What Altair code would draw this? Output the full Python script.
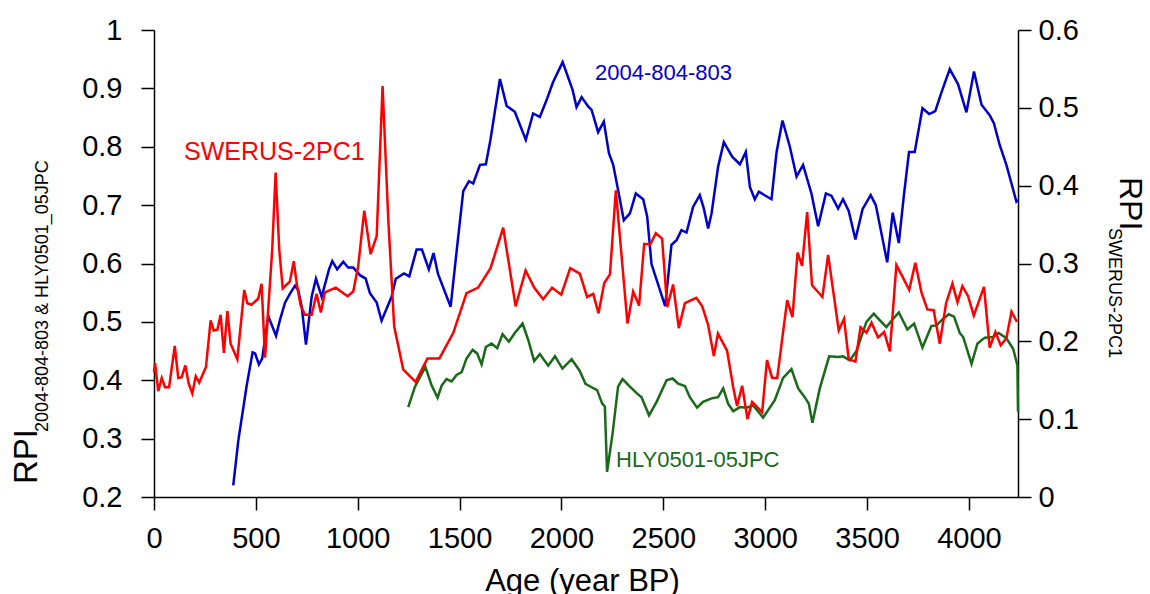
import altair as alt
import pandas as pd

# ---------------- data ----------------
red_age = [0,5,21,38,54,74,102,119,136,154,
           170,188,205,222,255,278,293,311,327,343,
           360,376,409,443,458,479,512,528,545,580,
           597,615,632,667,686,703,720,741,774,798,
           819,839,892,950,978,1002,1032,1063,1093,1122,
           1150,1179,1223,1284,1342,1401,1469,1534,1591,1652,
           1714,1775,1824,1866,1910,1954,1999,2043,2090,2126,
           2156,2182,2210,2238,2267,2324,2352,2381,2406,2437,
           2463,2494,2519,2548,2576,2606,2662,2691,2720,2748,
           2768,2813,2843,2862,2887,2913,2936,2985,3009,3034,
           3059,3108,3134,3159,3181,3206,3230,3281,3309,3361,
           3387,3410,3443,3468,3497,3522,3554,3584,3612,3644,
           3670,3707,3737,3767,3796,3827,3857,3888,3919,3944,
           3968,3996,4024,4074,4102,4130,4156,4184,4209,4236]
red_rpi = [0.160,0.172,0.136,0.153,0.141,0.141,0.194,0.153,0.154,0.169,
           0.146,0.133,0.155,0.147,0.167,0.227,0.214,0.215,0.234,0.185,
           0.239,0.197,0.177,0.266,0.249,0.247,0.255,0.274,0.179,0.317,
           0.417,0.317,0.268,0.277,0.303,0.270,0.246,0.234,0.234,0.261,
           0.237,0.263,0.269,0.258,0.264,0.296,0.368,0.312,0.335,0.528,
           0.356,0.219,0.164,0.148,0.178,0.178,0.211,0.262,0.269,0.294,
           0.346,0.245,0.291,0.269,0.254,0.269,0.260,0.294,0.287,0.257,
           0.261,0.236,0.275,0.286,0.394,0.223,0.264,0.246,0.325,0.325,
           0.339,0.332,0.244,0.273,0.217,0.249,0.256,0.245,0.221,0.181,
           0.210,0.188,0.141,0.117,0.143,0.100,0.122,0.109,0.176,0.153,
           0.153,0.253,0.231,0.314,0.297,0.366,0.272,0.257,0.311,0.214,
           0.229,0.177,0.174,0.218,0.211,0.224,0.205,0.212,0.187,0.298,
           0.285,0.266,0.301,0.263,0.241,0.240,0.197,0.249,0.274,0.250,
           0.271,0.258,0.233,0.270,0.192,0.212,0.195,0.204,0.238,0.225]

blue_age = [389,414,455,484,496,515,531,561,599,618,
            643,667,692,708,725,746,774,795,823,859,
            875,899,929,953,978,1011,1039,1060,1093,1117,
            1142,1166,1187,1227,1253,1289,1315,1349,1372,1394,
            1456,1482,1518,1546,1567,1600,1629,1652,1698,1731,
            1771,1825,1861,1894,1927,1959,2006,2055,2074,2099,
            2131,2148,2180,2208,2233,2254,2278,2306,2336,2365,
            2401,2421,2442,2509,2540,2565,2589,2614,2646,2679,
            2699,2720,2737,2769,2797,2838,2876,2905,2925,2949,
            2969,3031,3056,3085,3121,3154,3186,3227,3260,3298,
            3325,3358,3382,3410,3443,3478,3518,3543,3599,3626,
            3656,3680,3706,3734,3772,3805,3835,3864,3906,3947,
            3988,4025,4062,4102,4123,4151,4184,4209,4233,4241]
blue_rpi = [0.220,0.297,0.391,0.448,0.446,0.427,0.437,0.510,0.476,0.503,
            0.533,0.548,0.562,0.554,0.526,0.461,0.543,0.574,0.543,0.590,
            0.604,0.590,0.603,0.593,0.593,0.580,0.574,0.549,0.533,0.502,
            0.523,0.543,0.574,0.583,0.578,0.624,0.624,0.590,0.618,0.582,
            0.526,0.610,0.724,0.741,0.737,0.769,0.770,0.813,0.916,0.870,
            0.860,0.812,0.857,0.851,0.880,0.911,0.945,0.897,0.868,0.885,
            0.869,0.863,0.825,0.843,0.789,0.769,0.726,0.674,0.686,0.720,
            0.710,0.680,0.599,0.527,0.632,0.640,0.657,0.653,0.697,0.717,
            0.694,0.660,0.686,0.766,0.808,0.783,0.770,0.791,0.731,0.710,
            0.723,0.710,0.791,0.845,0.800,0.749,0.769,0.720,0.664,0.720,
            0.716,0.694,0.710,0.690,0.641,0.693,0.717,0.700,0.602,0.687,
            0.635,0.714,0.791,0.791,0.866,0.856,0.861,0.892,0.933,0.907,
            0.859,0.929,0.872,0.854,0.840,0.803,0.769,0.737,0.706,0.709]

green_age = [1248,1281,1332,1364,1392,1412,1436,1461,1485,1510,
             1534,1564,1586,1608,1629,1657,1685,1711,1742,1771,
             1809,1837,1866,1894,1935,1968,2005,2050,2090,2118,
             2148,2175,2200,2213,2224,2251,2278,2300,2336,2369,
             2393,2430,2467,2516,2545,2573,2606,2630,2666,2695,
             2737,2769,2794,2818,2843,2876,2908,2941,2990,3047,
             3088,3129,3162,3194,3214,3232,3268,3314,3358,3382,
             3415,3448,3497,3533,3562,3595,3620,3656,3698,3731,
             3772,3816,3841,3873,3901,3927,3955,3972,4013,4042,
             4078,4118,4146,4184,4217,4238,4241]
green_rpi = [0.354,0.389,0.423,0.390,0.370,0.391,0.402,0.398,0.409,0.414,
             0.437,0.452,0.446,0.427,0.457,0.463,0.455,0.479,0.466,0.481,
             0.497,0.469,0.433,0.445,0.425,0.441,0.420,0.436,0.416,0.394,
             0.388,0.383,0.360,0.355,0.243,0.309,0.389,0.402,0.389,0.378,
             0.371,0.340,0.363,0.400,0.403,0.394,0.390,0.371,0.353,0.363,
             0.369,0.371,0.386,0.360,0.347,0.354,0.353,0.357,0.336,0.366,
             0.404,0.419,0.386,0.371,0.360,0.327,0.386,0.441,0.440,0.441,
             0.434,0.450,0.500,0.514,0.503,0.491,0.502,0.516,0.487,0.497,
             0.456,0.493,0.494,0.505,0.513,0.509,0.481,0.474,0.428,0.463,
             0.473,0.474,0.481,0.472,0.454,0.426,0.346]

series_names = ["2004-804-803", "HLY0501-05JPC", "SWERUS-2PC1"]
series_colors = ["#0000cd", "#186a18", "#ff0000"]

x_ticks = [0, 500, 1000, 1500, 2000, 2500, 3000, 3500, 4000]
left_ticks = [0.2, 0.3, 0.4, 0.5, 0.6, 0.7, 0.8, 0.9, 1.0]
right_ticks = [0, 0.1, 0.2, 0.3, 0.4, 0.5, 0.6]
x_domain = [0, 4241]
left_domain = [0.2, 1.0]
right_domain = [0, 0.6]

# ---------------- tables ----------------
left_df = pd.concat([
    pd.DataFrame({"age": blue_age, "rpi": blue_rpi, "series": series_names[0]}),
    pd.DataFrame({"age": green_age, "rpi": green_rpi, "series": series_names[1]}),
])
right_df = pd.DataFrame({"age": red_age, "rpi": red_rpi, "series": series_names[2]})

FONT = "Liberation Sans"
W, H = 864, 467

axis_common = dict(
    grid=False, domainColor="#000000", domainWidth=1.5,
    tickColor="#000000", tickWidth=1.5, tickSize=13,
    labelFont=FONT, labelFontSize=29, labelColor="#000000",
)

x_scale = alt.Scale(domain=x_domain, nice=False, zero=False)

x_axis = alt.Axis(
    values=x_ticks, format="d", labelFlush=False, labelPadding=14,
    title="Age (year BP)", titleFont=FONT, titleFontSize=31,
    titleFontWeight="normal", titleColor="#000000",
    titleX=428, titleY=93, titleAlign="center", titleBaseline="alphabetic",
    **axis_common,
)

left = alt.Chart(left_df).mark_line(strokeWidth=2.5).encode(
    x=alt.X("age:Q", scale=x_scale, axis=x_axis),
    y=alt.Y("rpi:Q",
            scale=alt.Scale(domain=left_domain, nice=False, zero=False),
            axis=alt.Axis(values=left_ticks, format=".1~f", orient="left",
                          title=None, labelPadding=19, **axis_common)),
    color=alt.Color("series:N",
                    scale=alt.Scale(domain=series_names, range=series_colors),
                    legend=None),
)

right = alt.Chart(right_df).mark_line(strokeWidth=2.5, color=series_colors[2]).encode(
    x=alt.X("age:Q", scale=x_scale, axis=x_axis),
    y=alt.Y("rpi:Q",
            scale=alt.Scale(domain=right_domain, nice=False, zero=False),
            axis=alt.Axis(values=right_ticks, format=".1~f", orient="right",
                          title=None, labelPadding=7, **axis_common)),
)

one = pd.DataFrame({"k": [0]})


def label(text, x, y, size, color="#000000", angle=0):
    kw = dict(font=FONT, fontSize=size, color=color, align="left",
              baseline="alphabetic")
    if angle:
        kw["angle"] = angle
    return alt.Chart(one).mark_text(**kw).encode(
        x=alt.value(x), y=alt.value(y), text=alt.value(text))


texts = [
    label("SWERUS-2PC1", 30, 130, 25, series_colors[2]),
    label("2004-804-803", 441, 50, 22, series_colors[0]),
    label("HLY0501-05JPC", 462, 437, 22, series_colors[1]),
    label("RPI", -117, 454, 33, angle=270),
    label("2004-804-803 & HLY0501_05JPC", -106, 402, 18, angle=270),
    label("RPI", 966, 147, 32, angle=90),
    label("SWERUS-2PC1", 955, 198, 18, angle=90),
]

chart = alt.layer(left, right, *texts).resolve_scale(
    y="independent"
).properties(
    width=W, height=H,
    autosize=alt.AutoSizeParams(type="none"),
    padding={"left": 154, "top": 30, "right": 132, "bottom": 97},
    background="#ffffff",
).configure_view(strokeWidth=0)

chart.save("out.html", embed_options={"renderer": "svg", "actions": False})
